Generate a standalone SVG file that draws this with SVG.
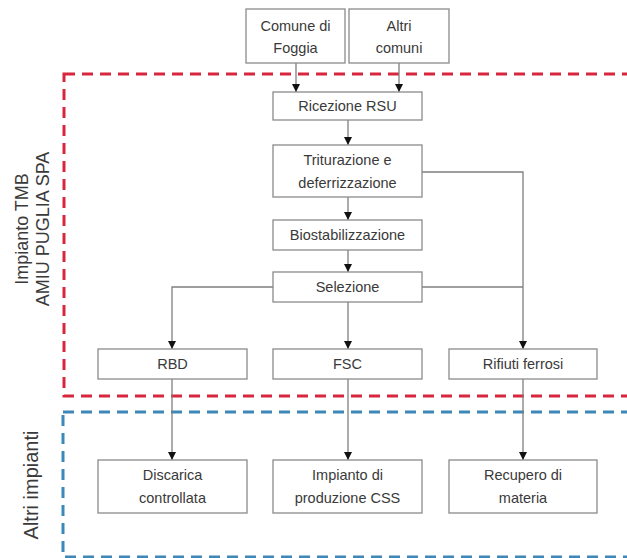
<svg xmlns="http://www.w3.org/2000/svg" width="627" height="558" viewBox="0 0 627 558">
  <style>
    .box { fill: #ffffff; stroke: #8a8a8a; stroke-width: 1.3; }
    .lbl { font-family: "Liberation Sans", Arial, sans-serif; font-size: 14.5px; fill: #3a3a3a; text-anchor: middle; }
    .side { font-family: "Liberation Sans", Arial, sans-serif; font-size: 18px; fill: #3a3a3a; text-anchor: middle; }
    .side-lg { font-family: "Liberation Sans", Arial, sans-serif; font-size: 20px; fill: #3a3a3a; text-anchor: middle; }
    .wire { fill: none; stroke: #7f7f7f; stroke-width: 1.3; }
    .zone-red { fill: none; stroke: #d7263d; stroke-width: 3; stroke-dasharray: 11 7; }
    .zone-blue { fill: none; stroke: #3d88b8; stroke-width: 3; stroke-dasharray: 11 7; }
  </style>
  <defs>
    <marker id="arrow" viewBox="0 0 10 10" refX="10" refY="5" markerWidth="8" markerHeight="8" markerUnits="userSpaceOnUse" orient="auto">
      <path d="M0,0 L10,5 L0,10 Z" fill="#111111"/>
    </marker>
  </defs>

  <rect width="627" height="558" fill="#ffffff"/>

  <!-- plant boundaries -->
  <g id="zones">
    <rect class="zone-red" x="64" y="74" width="600" height="322"/>
    <rect class="zone-blue" x="63" y="412" width="600" height="145"/>
    <text class="side" transform="translate(28,229) rotate(-90)">Impianto TMB</text>
    <text class="side" transform="translate(49,229) rotate(-90)">AMIU PUGLIA SPA</text>
    <text class="side-lg" transform="translate(38,485) rotate(-90)">Altri impianti</text>
  </g>

  <!-- connectors -->
  <g id="connectors">
    <path class="wire" d="M296,63 V92" marker-end="url(#arrow)"/>
    <path class="wire" d="M399,63 V92" marker-end="url(#arrow)"/>
    <path class="wire" d="M348,120 V145" marker-end="url(#arrow)"/>
    <path class="wire" d="M348,197 V220" marker-end="url(#arrow)"/>
    <path class="wire" d="M348,250 V272" marker-end="url(#arrow)"/>
    <path class="wire" d="M273,287 H172 V349" marker-end="url(#arrow)"/>
    <path class="wire" d="M348,302 V349" marker-end="url(#arrow)"/>
    <path class="wire" d="M422,172 H523 V349" marker-end="url(#arrow)"/>
    <path class="wire" d="M422,287 H523"/>
    <path class="wire" d="M172,379 V460" marker-end="url(#arrow)"/>
    <path class="wire" d="M348,379 V460" marker-end="url(#arrow)"/>
    <path class="wire" d="M523,379 V460" marker-end="url(#arrow)"/>
  </g>

  <g id="comune-foggia">
    <rect class="box" x="246" y="9" width="99" height="54"/>
    <text class="lbl" x="295.5" y="31">Comune di</text>
    <text class="lbl" x="295.5" y="53">Foggia</text>
  </g>
  <g id="altri-comuni">
    <rect class="box" x="349" y="9" width="100" height="54"/>
    <text class="lbl" x="399" y="31">Altri</text>
    <text class="lbl" x="399" y="53">comuni</text>
  </g>
  <g id="ricezione">
    <rect class="box" x="273" y="92" width="149" height="28"/>
    <text class="lbl" x="347.5" y="111">Ricezione RSU</text>
  </g>
  <g id="triturazione">
    <rect class="box" x="273" y="145" width="149" height="52"/>
    <text class="lbl" x="347.5" y="165">Triturazione e</text>
    <text class="lbl" x="347.5" y="188">deferrizzazione</text>
  </g>
  <g id="biostabilizzazione">
    <rect class="box" x="273" y="220" width="149" height="30"/>
    <text class="lbl" x="347.5" y="240">Biostabilizzazione</text>
  </g>
  <g id="selezione">
    <rect class="box" x="273" y="272" width="149" height="30"/>
    <text class="lbl" x="347.5" y="292">Selezione</text>
  </g>
  <g id="rbd">
    <rect class="box" x="98" y="349" width="149" height="30"/>
    <text class="lbl" x="172.5" y="369">RBD</text>
  </g>
  <g id="fsc">
    <rect class="box" x="273" y="349" width="149" height="30"/>
    <text class="lbl" x="347.5" y="369">FSC</text>
  </g>
  <g id="rifiuti-ferrosi">
    <rect class="box" x="449" y="349" width="148" height="30"/>
    <text class="lbl" x="523" y="369">Rifiuti ferrosi</text>
  </g>
  <g id="discarica">
    <rect class="box" x="98" y="460" width="149" height="53"/>
    <text class="lbl" x="172.5" y="480">Discarica</text>
    <text class="lbl" x="172.5" y="503">controllata</text>
  </g>
  <g id="impianto-css">
    <rect class="box" x="273" y="460" width="149" height="53"/>
    <text class="lbl" x="347.5" y="480">Impianto di</text>
    <text class="lbl" x="347.5" y="503">produzione CSS</text>
  </g>
  <g id="recupero">
    <rect class="box" x="449" y="460" width="148" height="53"/>
    <text class="lbl" x="523" y="480">Recupero di</text>
    <text class="lbl" x="523" y="503">materia</text>
  </g>
</svg>
